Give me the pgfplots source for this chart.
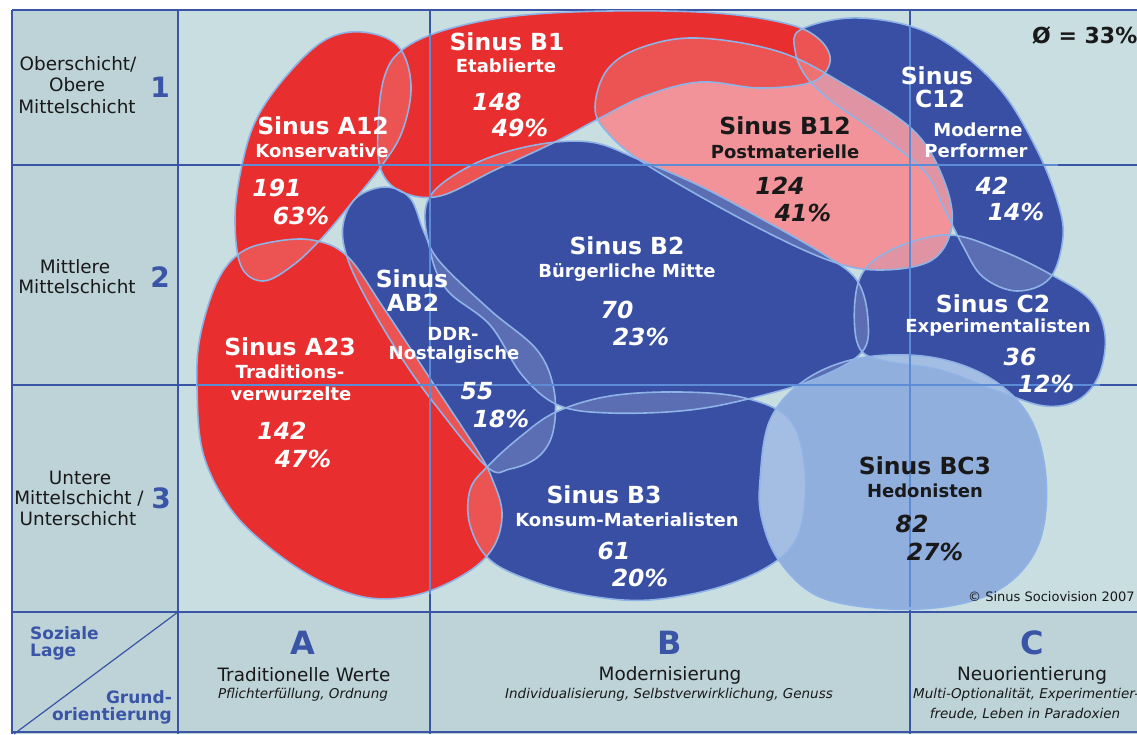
\documentclass[border=0pt]{standalone}
\usepackage{fontspec}
\setmainfont{DejaVu Sans}
\usepackage{pgfplots}
\usepackage{pgfplotstable}
\pgfplotsset{compat=1.18}

\definecolor{bgmain}{RGB}{201,222,225}
\definecolor{bgside}{RGB}{189,211,216}
\definecolor{gridblue}{RGB}{58,84,166}
\definecolor{gridlight}{RGB}{92,140,214}
\definecolor{redbase}{rgb}{0.89,0,0}
\definecolor{bluebase}{rgb}{0.05,0.16,0.56}
\definecolor{pinkbase}{rgb}{0.96,0.42,0.45}
\definecolor{lightbase}{rgb}{0.48,0.62,0.84}
\definecolor{edge}{RGB}{143,179,230}
\definecolor{ink}{RGB}{25,25,25}

\newcommand{\fs}[1]{\fontsize{#1}{#1}\selectfont}
\newcommand{\ttl}{\fs{23.5}\bfseries}
\newcommand{\sub}{\fs{18}\bfseries}
\newcommand{\num}{\fs{23.5}\bfseries\itshape}

% milieu outlines, in pixel units of the original (y runs downwards)
\pgfplotstableread{
x y
325 40
362 32
398 46
411 85
402 132
380 168
350 205
322 238
292 266
263 281
241 266
235 218
242 165
257 118
288 74
}\tAxii
\pgfplotstableread{
x y
378 128
384 78
402 50
445 30
515 16
610 11
715 13
788 24
820 40
830 62
812 82
760 88
700 82
645 96
600 118
553 143
495 170
440 196
402 192
381 170
}\tBi
\pgfplotstableread{
x y
595 107
607 70
640 48
697 38
780 52
847 86
913 130
943 178
952 225
932 260
880 270
828 260
747 222
647 165
607 132
}\tBxii
\pgfplotstableread{
x y
800 30
850 18
910 26
957 50
1003 93
1037 150
1057 200
1063 237
1050 278
1017 291
983 277
963 246
945 210
925 172
880 135
830 100
805 75
795 50
}\tCxii
\pgfplotstableread{
x y
428 200
470 166
530 146
590 142
640 160
700 186
760 218
828 257
858 282
868 320
862 352
820 377
760 396
690 410
610 413
558 405
522 375
490 325
447 290
430 250
}\tBii
\pgfplotstableread{
x y
343 225
356 198
385 187
410 198
424 232
440 262
490 310
537 350
554 390
553 432
538 457
510 469
487 467
437 407
403 360
367 300
347 257
}\tABii
\pgfplotstableread{
x y
347 256
383 307
433 383
477 450
491 476
502 512
494 546
468 572
420 594
370 598
320 581
270 548
230 508
203 453
197 387
200 337
217 282
240 253
272 242
312 240
}\tAxxiii
\pgfplotstableread{
x y
487 467
520 437
556 412
610 396
680 392
745 398
790 420
805 470
800 530
775 562
720 587
650 600
590 596
535 582
490 560
470 525
470 490
}\tBiii
\pgfplotstableread{
x y
760 480
770 420
805 380
860 358
930 357
990 378
1030 418
1046 478
1040 540
1010 582
960 604
890 609
820 597
780 562
762 520
}\tBCiii
\pgfplotstableread{
x y
855 300
866 268
900 246
950 235
1000 250
1050 274
1090 300
1105 335
1099 375
1078 400
1045 406
1000 392
940 370
880 360
858 345
}\tCii

\begin{document}
\begin{tikzpicture}
\begin{axis}[
  hide axis,
  scale only axis,
  width=1137pt, height=734pt,
  xmin=0, xmax=1137, ymin=0, ymax=734,
  y dir=reverse,
  clip=false,
  blob/.style={draw=none, smooth cycle, tension=0.6},
  wash/.style={draw=none, fill=white, fill opacity=0.18, smooth cycle, tension=0.6},
  rim/.style={draw=edge, line width=1.6pt, smooth cycle, tension=0.6},
  gridline/.style={draw=gridblue, line width=1.8pt},
  overline/.style={draw=gridlight, line width=1.5pt},
]
% backgrounds
\addplot[draw=none, fill=bgmain] coordinates {(12,10) (1137,10) (1137,612) (12,612)} -- cycle;
\addplot[draw=none, fill=bgside] coordinates {(12,10) (178,10) (178,612) (12,612)} -- cycle;
\addplot[draw=none, fill=bgside] coordinates {(12,612) (1137,612) (1137,734) (12,734)} -- cycle;

% frame and grid
\addplot[gridline] coordinates {(12,10) (1137,10)};
\addplot[gridline] coordinates {(12,10) (12,734)};
\addplot[gridline] coordinates {(178,10) (178,734)};
\addplot[gridline] coordinates {(430,10) (430,734)};
\addplot[gridline] coordinates {(910,10) (910,734)};
\addplot[gridline] coordinates {(12,165) (1137,165)};
\addplot[gridline] coordinates {(12,385) (1137,385)};
\addplot[gridline] coordinates {(12,612) (1137,612)};
\addplot[gridline] coordinates {(12,732) (1137,732)};
\addplot[draw=gridblue, line width=1.2pt] coordinates {(178,612) (14,734)};

% milieus, bottom to top
\addplot[blob, fill=bluebase] table {\tCxii};
\addplot[blob, fill=bluebase] table {\tCii};
\addplot[blob, fill=bluebase] table {\tBiii};
\addplot[blob, fill=lightbase] table {\tBCiii};
\addplot[blob, fill=pinkbase, fill opacity=0.85] table {\tBxii};
\addplot[blob, fill=bluebase] table {\tBii};
\addplot[blob, fill=bluebase] table {\tABii};
\addplot[blob, fill=redbase] table {\tBi};
\addplot[blob, fill=redbase] table {\tAxii};
\addplot[blob, fill=redbase] table {\tAxxiii};

% light wash, stronger where milieus overlap
\addplot[wash] table {\tCxii};
\addplot[wash] table {\tCii};
\addplot[wash] table {\tBiii};
\addplot[wash] table {\tBCiii};
\addplot[wash] table {\tBxii};
\addplot[wash] table {\tBii};
\addplot[wash] table {\tABii};
\addplot[wash] table {\tBi};
\addplot[wash] table {\tAxii};
\addplot[wash] table {\tAxxiii};

% outlines
\addplot[rim] table {\tCxii};
\addplot[rim] table {\tCii};
\addplot[rim] table {\tBiii};
\addplot[rim] table {\tBCiii};
\addplot[rim] table {\tBxii};
\addplot[rim] table {\tBii};
\addplot[rim] table {\tABii};
\addplot[rim] table {\tBi};
\addplot[rim] table {\tAxii};
\addplot[rim] table {\tAxxiii};

% grid lines where they cross the milieus
\addplot[overline] coordinates {(240,165) (1058,165)};
\addplot[overline] coordinates {(197,385) (1100,385)};
\addplot[overline] coordinates {(430,33) (430,594)};
\addplot[overline] coordinates {(910,26) (910,607)};

% row labels
\begin{scope}[every node/.style={inner sep=0, text=ink, font=\fs{18.4}}]
\node at (axis cs:78,64) {Oberschicht/};
\node at (axis cs:77,85) {Obere};
\node at (axis cs:77,107) {Mittelschicht};
\node at (axis cs:75,267) {Mittlere};
\node at (axis cs:77,287) {Mittelschicht};
\node at (axis cs:80,478) {Untere};
\node at (axis cs:79,498) {Mittelschicht /};
\node at (axis cs:78,519) {Unterschicht};
\end{scope}
\begin{scope}[every node/.style={inner sep=0, text=gridblue, font=\fs{28}\bfseries}]
\node at (axis cs:160,87) {1};
\node at (axis cs:160,277) {2};
\node at (axis cs:161,498) {3};
\end{scope}

% column labels
\begin{scope}[every node/.style={inner sep=0, text=gridblue, font=\fs{32}\bfseries}]
\node at (axis cs:303,643) {A};
\node at (axis cs:670,643) {B};
\node at (axis cs:1032,643) {C};
\end{scope}
\begin{scope}[every node/.style={inner sep=0, text=ink, font=\fs{18.4}}]
\node at (axis cs:304,675) {Traditionelle Werte};
\node at (axis cs:670,675) {Modernisierung};
\node at (axis cs:1032,675) {Neuorientierung};
\end{scope}
\begin{scope}[every node/.style={inner sep=0, text=ink, font=\fs{13.5}\itshape}]
\node at (axis cs:303,695) {Pflichterfüllung, Ordnung};
\node at (axis cs:669,695) {Individualisierung, Selbstverwirklichung, Genuss};
\node[anchor=west] at (axis cs:913,695) {Multi-Optionalität, Experimentier-};
\node at (axis cs:1025,714) {freude, Leben in Paradoxien};
\end{scope}
\begin{scope}[every node/.style={inner sep=0, text=gridblue, font=\fs{17}\bfseries}]
\node[anchor=west] at (axis cs:30,633) {Soziale};
\node[anchor=west] at (axis cs:30,652) {Lage};
\node[anchor=east] at (axis cs:172,697) {Grund-};
\node[anchor=east] at (axis cs:172,716) {orientierung};
\end{scope}

\node[inner sep=0, anchor=west, text=ink, font=\fs{22}\bfseries] at (axis cs:1032,35) {Ø = 33\%};
\node[inner sep=0, anchor=west, text=ink, font=\fs{13}] at (axis cs:968,597) {© Sinus Sociovision 2007};

% milieu names, white
\begin{scope}[every node/.style={inner sep=0, text=white}]
\node[font=\ttl] at (axis cs:507,42) {Sinus B1};
\node[font=\sub] at (axis cs:506,66) {Etablierte};
\node[font=\num] at (axis cs:497,102) {148};
\node[font=\num] at (axis cs:520,128) {49\%};

\node[font=\ttl] at (axis cs:323,126) {Sinus A12};
\node[font=\sub] at (axis cs:322,151) {Konservative};
\node[font=\num] at (axis cs:277,188) {191};
\node[font=\num] at (axis cs:301,216) {63\%};

\node[font=\ttl] at (axis cs:937,76) {Sinus};
\node[font=\ttl] at (axis cs:940,99) {C12};
\node[font=\sub] at (axis cs:978,130) {Moderne};
\node[font=\sub] at (axis cs:976,151) {Performer};
\node[font=\num] at (axis cs:992,186) {42};
\node[font=\num] at (axis cs:1016,212) {14\%};

\node[font=\ttl] at (axis cs:627,246) {Sinus B2};
\node[font=\sub] at (axis cs:627,272) {Bürgerliche Mitte};
\node[font=\num] at (axis cs:617,310) {70};
\node[font=\num] at (axis cs:641,337) {23\%};

\node[font=\ttl] at (axis cs:412,279) {Sinus};
\node[font=\ttl] at (axis cs:413,303) {AB2};
\node[font=\sub] at (axis cs:453,334) {DDR-};
\node[font=\sub] at (axis cs:454,355) {Nostalgische};
\node[font=\num] at (axis cs:477,391) {55};
\node[font=\num] at (axis cs:501,419) {18\%};

\node[font=\ttl] at (axis cs:290,347) {Sinus A23};
\node[font=\sub] at (axis cs:290,372) {Traditions-};
\node[font=\sub] at (axis cs:291,394) {verwurzelte};
\node[font=\num] at (axis cs:282,431) {142};
\node[font=\num] at (axis cs:303,459) {47\%};

\node[font=\ttl] at (axis cs:993,304) {Sinus C2};
\node[font=\sub] at (axis cs:998,328) {Experimentalisten};
\node[font=\num] at (axis cs:1020,357) {36};
\node[font=\num] at (axis cs:1046,384) {12\%};

\node[font=\ttl] at (axis cs:604,495) {Sinus B3};
\node[font=\sub] at (axis cs:627,520) {Konsum-Materialisten};
\node[font=\num] at (axis cs:614,551) {61};
\node[font=\num] at (axis cs:640,578) {20\%};
\end{scope}

% milieu names, dark
\begin{scope}[every node/.style={inner sep=0, text=ink}]
\node[font=\ttl] at (axis cs:785,126) {Sinus B12};
\node[font=\sub] at (axis cs:785,152) {Postmaterielle};
\node[font=\num] at (axis cs:780,186) {124};
\node[font=\num] at (axis cs:803,213) {41\%};

\node[font=\ttl] at (axis cs:925,466) {Sinus BC3};
\node[font=\sub] at (axis cs:925,491) {Hedonisten};
\node[font=\num] at (axis cs:912,524) {82};
\node[font=\num] at (axis cs:935,552) {27\%};
\end{scope}
\end{axis}
\pgfresetboundingbox
\useasboundingbox (current axis.south west) rectangle (current axis.north east);
\end{tikzpicture}
\end{document}
